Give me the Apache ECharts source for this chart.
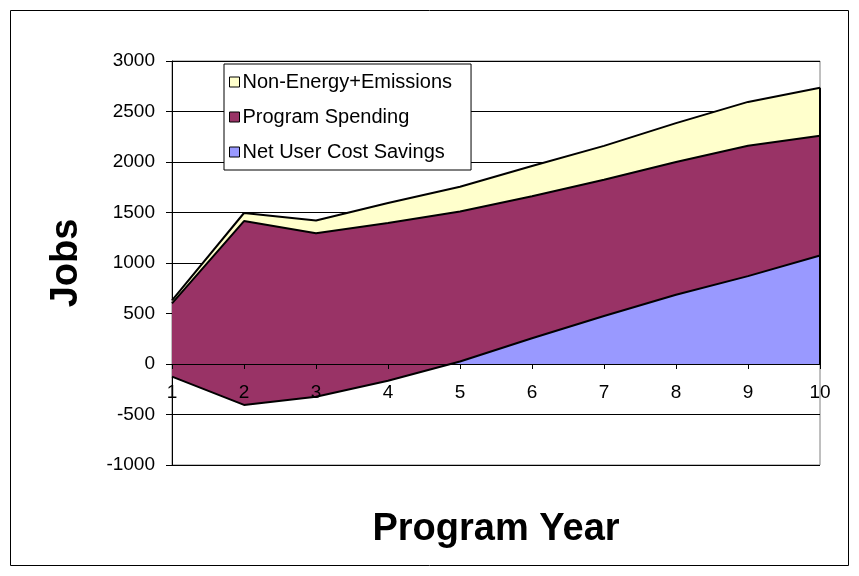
<!DOCTYPE html>
<html>
<head>
<meta charset="utf-8">
<script src="https://cdn.jsdelivr.net/npm/echarts@6/dist/echarts.min.js"></script>
<style>
html,body{margin:0;padding:0;background:#fff;}
#chart{width:859px;height:576px;}
</style>
</head>
<body>
<div id="chart"></div>
<script>
// Data
const years = ['1','2','3','4','5','6','7','8','9','10'];
const netUserCostSavings = [-125, -405, -325, -165, 25, 255, 475, 685, 870, 1075];
const programSpending = [725, 1820, 1620, 1560, 1485, 1405, 1350, 1315, 1290, 1185];
const nonEnergyEmissions = [30, 80, 125, 200, 245, 300, 335, 385, 435, 475];
const yTicks = { min: -1000, max: 3000, interval: 500 };

const lastIdx = years.length - 1;
const lastTotal = netUserCostSavings[lastIdx] + programSpending[lastIdx] + nonEnergyEmissions[lastIdx];

const W = 859, H = 576;
const gridBox = { left: 172, right: 39, top: 61, bottom: 111 };
const gridHeight = H - gridBox.top - gridBox.bottom;
// place the category axis on the value 0
const zeroOffset = -((0 - yTicks.min) / (yTicks.max - yTicks.min)) * gridHeight;

const font = 'Liberation Sans, Arial, sans-serif';
const chart = echarts.init(document.getElementById('chart'), null, { renderer: 'canvas' });

function areaSeries(name, data, color, extra) {
  return Object.assign({
    name: name,
    type: 'line',
    stack: 'jobs',
    stackStrategy: 'all',
    data: data,
    showSymbol: false,
    symbol: 'none',
    lineStyle: { color: '#000', width: 2 },
    itemStyle: { color: color },
    areaStyle: { color: color, opacity: 1 },
    emphasis: { disabled: true },
    animation: false
  }, extra || {});
}

chart.setOption({
  animation: false,
  textStyle: { fontFamily: font },
  graphic: [{
    type: 'rect',
    shape: { x: 10.5, y: 10.5, width: 838, height: 555 },
    style: { fill: null, stroke: '#000', lineWidth: 1 },
    silent: true
  }],
  grid: Object.assign({ containLabel: false, outerBoundsMode: 'none',
          show: true, borderColor: '#808080', borderWidth: 1, backgroundColor: 'transparent' }, gridBox),
  legend: {
    orient: 'vertical',
    left: 224, top: 64,
    data: ['Non-Energy+Emissions', 'Program Spending', 'Net User Cost Savings'],
    icon: 'rect',
    itemWidth: 10, itemHeight: 10,
    itemGap: 15,
    padding: [8, 19, 8, 5],
    backgroundColor: '#fff',
    borderColor: '#000', borderWidth: 1,
    itemStyle: { borderColor: '#000', borderWidth: 1 },
    textStyle: { fontSize: 20, color: '#000', fontFamily: font, padding: [0, 0, 0, -2] },
    selectedMode: false
  },
  xAxis: {
    type: 'category',
    data: years,
    boundaryGap: false,
    offset: zeroOffset,
    z: 5,
    axisLine: { show: true, onZero: false, lineStyle: { color: '#000', width: 1 } },
    axisTick: { show: true, length: 5, lineStyle: { color: '#000' } },
    axisLabel: { color: '#000', fontSize: 19, margin: 19, fontFamily: font, interval: 0 },
    splitLine: { show: false },
    name: 'Program Year',
    nameLocation: 'middle',
    nameGap: 147,
    nameTextStyle: { fontSize: 38, fontWeight: 'bold', color: '#000', fontFamily: font }
  },
  yAxis: {
    type: 'value',
    min: yTicks.min, max: yTicks.max, interval: yTicks.interval,
    axisLine: { show: true, lineStyle: { color: '#000', width: 1 } },
    axisTick: { show: true, length: 6, lineStyle: { color: '#000' } },
    axisLabel: { color: '#000', fontSize: 19, margin: 17, fontFamily: font,
                 formatter: function (v) { return String(v); } },
    splitLine: { show: true, lineStyle: { color: '#000', width: 1 } },
    name: 'Jobs',
    nameLocation: 'middle',
    nameGap: 86,
    nameRotate: 90,
    nameTextStyle: { fontSize: 38, fontWeight: 'bold', color: '#000', fontFamily: font }
  },
  series: [
    areaSeries('Net User Cost Savings', netUserCostSavings, '#9999FF'),
    areaSeries('Program Spending', programSpending, '#993366'),
    areaSeries('Non-Energy+Emissions', nonEnergyEmissions, '#FFFFCC', {
      markLine: {
        silent: true,
        symbol: ['none', 'none'],
        label: { show: false },
        lineStyle: { color: '#000', width: 2, type: 'solid' },
        data: [[{ coord: [lastIdx, 0] }, { coord: [lastIdx, lastTotal] }]]
      }
    })
  ]
});
</script>
</body>
</html>
